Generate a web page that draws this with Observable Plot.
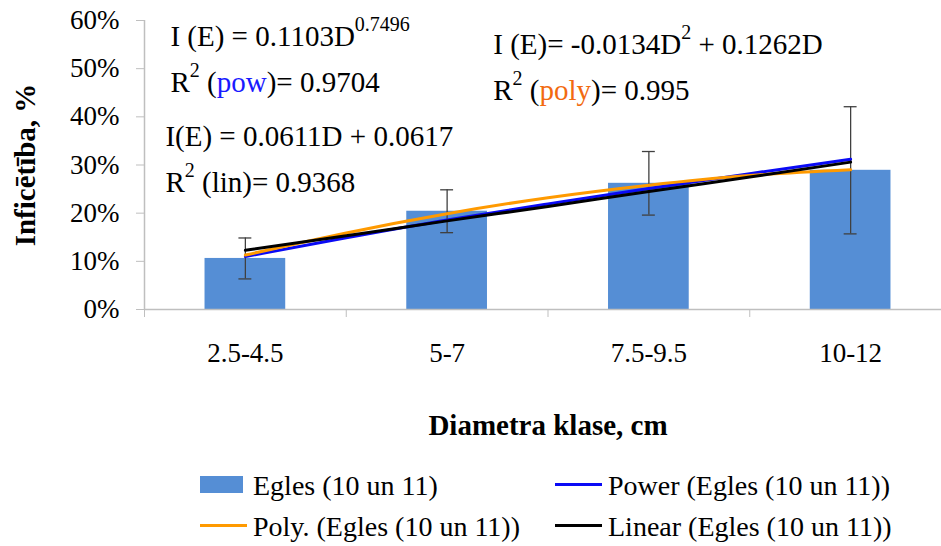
<!DOCTYPE html>
<html><head><meta charset="utf-8">
<script src="https://cdn.jsdelivr.net/npm/d3@7"></script>
<script src="https://cdn.jsdelivr.net/npm/@observablehq/plot@0.6"></script>
<style>
html,body{margin:0;padding:0;background:#fff;overflow:hidden;}
#wrap{position:relative;width:941px;height:546px;font-family:"Liberation Serif","Times New Roman",serif;}
.leg{position:absolute;display:flex;align-items:center;font-size:28px;line-height:28px;height:28px;color:#000;white-space:nowrap;}
.sw{width:43px;height:17px;margin-right:10px;position:relative;top:-2px;}
.ln{width:47px;height:3px;margin-right:6px;position:relative;top:-2px;}
</style></head><body><div id="wrap"></div>
<script>
// ---- data ----
const categories = ["2.5-4.5", "5-7", "7.5-9.5", "10-12"];
const infection = [0.106, 0.204, 0.262, 0.289];
const errorHalf = [0.0425, 0.0445, 0.066, 0.132];
const trendD = [1, 1.5, 2, 2.5, 3, 3.5, 4];
const powerFit = [0.110, 0.149, 0.186, 0.219, 0.251, 0.282, 0.312];
const polyFit = [0.113, 0.159, 0.199, 0.232, 0.258, 0.278, 0.290];
const linearFit = [0.123, 0.153, 0.184, 0.214, 0.245, 0.275, 0.306];
const yTicks = [0, 0.1, 0.2, 0.3, 0.4, 0.5, 0.6];
const seriesNames = ["Egles (10 un 11)", "Power (Egles (10 un 11))", "Poly. (Egles (10 un 11))", "Linear (Egles (10 un 11))"];
const eqTexts = [
  "I (E) = 0.1103D^{0.7496}",
  "R^{2} ([pow])= 0.9704",
  "I(E) = 0.0611D + 0.0617",
  "R^{2} (lin)= 0.9368",
  "I (E)= -0.0134D^{2} + 0.1262D",
  "R^{2} ([poly])= 0.995"
];
const yTitle = "Inficētība, %";
const xTitle = "Diametra klase, cm";

// ---- styles / layout ----
const FONT = "'Liberation Serif', 'Times New Roman', serif";
const barColor = "#558ed5", powColor = "#0a0af5", polyColor = "#ff9a00", linColor = "#000000";
const eqAccent = [null, "#1a1aff", null, null, null, "#f26a10"];
const eqPos = [[0.631, 0.546], [0.631, 0.4505], [0.606, 0.3374], [0.606, 0.2419], [2.231, 0.5304], [2.231, 0.4329]];
const xDomain = [0.5, categories.length + 0.5];
const barHalf = 0.2, capHalf = 0.032;

const bars = categories.map((c, i) => ({cat: c, pos: i + 1, v: infection[i], lo: infection[i] - errorHalf[i], hi: infection[i] + errorHalf[i]}));
const trend = vals => trendD.map((d, i) => ({d, v: vals[i]}));
const boundaries = d3.range(xDomain[0], xDomain[1] + 0.01, 1);

const axisGray = "#bfbfbf", errColor = "#404040";

const chart = Plot.plot({
  width: 941, height: 455,
  marginLeft: 144, marginRight: -10, marginTop: 20, marginBottom: 146,
  style: {fontFamily: FONT, fontSize: "27px", color: "#000", background: "#fff"},
  x: {domain: xDomain, label: null},
  y: {domain: [0, 0.6], label: null},
  marks: [
    Plot.rectY(bars, {x1: d => d.pos - barHalf, x2: d => d.pos + barHalf, y: "v", fill: barColor}),
    Plot.ruleX(bars, {x: "pos", y1: "lo", y2: "hi", stroke: errColor, strokeWidth: 1.3}),
    Plot.ruleY(bars, {y: "lo", x1: d => d.pos - capHalf, x2: d => d.pos + capHalf, stroke: errColor, strokeWidth: 1.3}),
    Plot.ruleY(bars, {y: "hi", x1: d => d.pos - capHalf, x2: d => d.pos + capHalf, stroke: errColor, strokeWidth: 1.3}),
    Plot.line(trend(powerFit), {x: "d", y: "v", stroke: powColor, strokeWidth: 3, curve: "natural"}),
    Plot.line(trend(polyFit), {x: "d", y: "v", stroke: polyColor, strokeWidth: 3, curve: "natural"}),
    Plot.line(trend(linearFit), {x: "d", y: "v", stroke: linColor, strokeWidth: 3, curve: "natural"}),
    Plot.ruleY([0], {stroke: axisGray, strokeWidth: 1.5}),
    Plot.ruleX([xDomain[0]], {stroke: axisGray, strokeWidth: 1.5}),
    Plot.axisY({ticks: yTicks, tickFormat: d3.format(".0%"), tickSize: 8, tickPadding: 17, stroke: axisGray, label: null}),
    Plot.axisX({ticks: boundaries, tickSize: 8, tickFormat: () => "", stroke: axisGray, label: null}),
    Plot.axisX({ticks: [1, 2, 3, 4], tickSize: 0, tickPadding: 33, tickFormat: i => categories[i - 1], label: null}),
    Plot.text([yTitle], {frameAnchor: "left", rotate: -90, dx: -119, fontWeight: "bold", fontSize: 29, textAnchor: "middle", lineAnchor: "middle"}),
    Plot.text([xTitle], {frameAnchor: "bottom", dy: 116, fontWeight: "bold", fontSize: 29, textAnchor: "middle", lineAnchor: "middle"})
  ]
});

// rich-text equations (superscripts + coloured words), placed via the plot's scales
const sx = chart.scale("x"), sy = chart.scale("y");
function addRich(svg, str, x, y, accent) {
  const t = d3.select(svg).append("text")
    .attr("x", x).attr("y", y).attr("text-anchor", "start")
    .attr("font-family", FONT).attr("font-size", 29).attr("fill", "#000");
  const re = /\^\{([^}]*)\}|\[([^\]]*)\]/g;
  let last = 0, m, pending = 0;
  const plain = s => { if (!s) return; const sp = t.append("tspan").text(s); if (pending) { sp.attr("dy", pending); pending = 0; } return sp; };
  while ((m = re.exec(str))) {
    plain(str.slice(last, m.index));
    if (m[1] !== undefined) {
      t.append("tspan").attr("dy", -15 + pending).attr("font-size", 20).text(m[1]);
      pending = 15;
    } else {
      const sp = plain(m[2]);
      sp.attr("fill", accent);
    }
    last = re.lastIndex;
  }
  plain(str.slice(last));
}
eqTexts.forEach((s, i) => addRich(chart, s, sx.apply(eqPos[i][0]), sy.apply(eqPos[i][1]), eqAccent[i]));

const wrap = document.getElementById("wrap");
wrap.appendChild(chart);

// legend
const legItems = [
  {name: seriesNames[0], kind: "sw", color: barColor, left: 200, top: 472},
  {name: seriesNames[1], kind: "ln", color: powColor, left: 555, top: 472},
  {name: seriesNames[2], kind: "ln", color: polyColor, left: 200, top: 513},
  {name: seriesNames[3], kind: "ln", color: linColor, left: 555, top: 513}
];
legItems.forEach(it => {
  const d = document.createElement("div");
  d.className = "leg";
  d.style.left = it.left + "px"; d.style.top = it.top + "px";
  const s = document.createElement("span");
  s.className = it.kind; s.style.background = it.color;
  const tx = document.createElement("span");
  tx.textContent = it.name;
  d.appendChild(s); d.appendChild(tx);
  wrap.appendChild(d);
});
</script></body></html>
